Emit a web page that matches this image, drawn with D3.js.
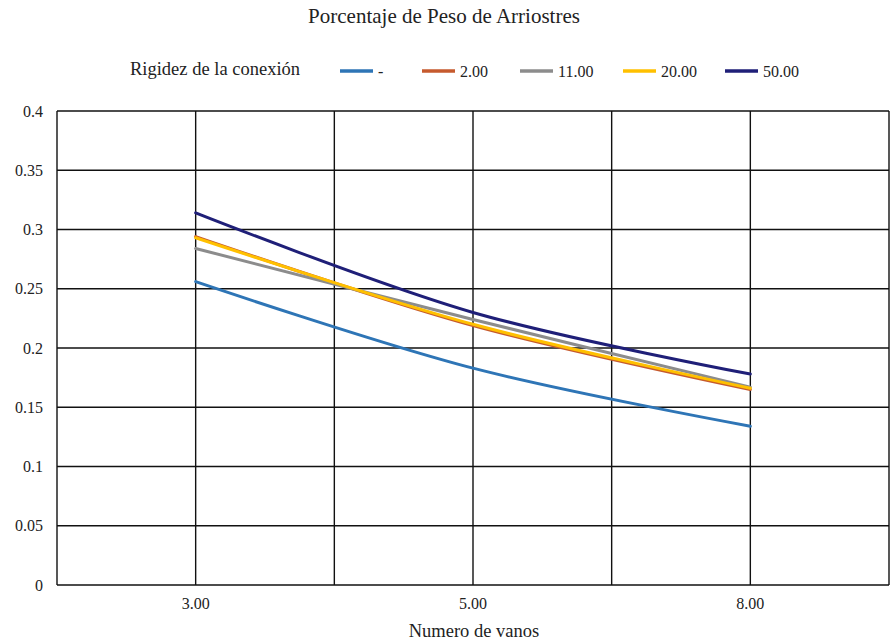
<!DOCTYPE html>
<html><head><meta charset="utf-8">
<script src="https://cdn.jsdelivr.net/npm/d3@7"></script>
<style>body{margin:0;background:#fff}svg{display:block}text{font-family:"Liberation Serif","Times New Roman",serif;fill:#222}</style>
</head><body>
<script>
const categories = ["3.00", "5.00", "8.00"];
const seriesNames = ["-", "2.00", "11.00", "20.00", "50.00"];
const valsNone = [0.256, 0.183, 0.134];
const vals2 = [0.294, 0.219, 0.165];
const vals11 = [0.284, 0.224, 0.167];
const vals20 = [0.293, 0.220, 0.166];
const vals50 = [0.314, 0.230, 0.178];
const yTicks = [0, 0.05, 0.1, 0.15, 0.2, 0.25, 0.3, 0.35, 0.4];
const colors = ["#2E75B6", "#C65A2E", "#8C8C8C", "#FFC000", "#1F1F78"];
const series = [valsNone, vals2, vals11, vals20, vals50].map((v, i) => ({name: seriesNames[i], values: v, color: colors[i]}));

const W = 894, H = 644;
const m = {l: 57, r: 5, t: 111, b: 59};
const svg = d3.select("body").append("svg").attr("width", W).attr("height", H);
const x = d3.scaleBand().domain(categories).range([m.l, W - m.r]).padding(0);
const y = d3.scaleLinear().domain([0, 0.4]).range([H - m.b, m.t]);

// horizontal gridlines
const grid = svg.append("g").attr("stroke", "#111").attr("stroke-width", 1.4);
grid.selectAll("line.h").data(yTicks).join("line")
  .attr("x1", m.l).attr("x2", W - m.r).attr("y1", d => y(d)).attr("y2", d => y(d));
// vertical gridlines at band edges and centers
const vx = [];
categories.forEach(c => { vx.push(x(c)); vx.push(x(c) + x.bandwidth() / 2); });
vx.push(x(categories[categories.length - 1]) + x.bandwidth());
grid.selectAll("line.v").data(vx).join("line")
  .attr("x1", d => d).attr("x2", d => d).attr("y1", m.t).attr("y2", H - m.b);

// y axis labels
const yAxis = d3.axisLeft(y).tickValues(yTicks).tickSize(0).tickPadding(14).tickFormat(d => d3.format("~g")(d));
const ya = svg.append("g").attr("transform", `translate(${m.l},0)`).call(yAxis);
ya.select(".domain").remove();
ya.selectAll("text").style("font-size", "16px").style("font-family", "Liberation Serif, serif").attr("fill", "#222");

// x axis labels
const xAxis = d3.axisBottom(x).tickSize(0).tickPadding(13);
const xa = svg.append("g").attr("transform", `translate(0,${H - m.b})`).call(xAxis);
xa.select(".domain").remove();
xa.selectAll("text").style("font-size", "16px").style("font-family", "Liberation Serif, serif").attr("fill", "#222");

// lines
const line = d3.line().x((d, i) => x(categories[i]) + x.bandwidth() / 2).y(d => y(d)).curve(d3.curveCatmullRom.alpha(0.5));
svg.append("g").selectAll("path").data(series).join("path")
  .attr("d", d => line(d.values)).attr("fill", "none").attr("stroke", d => d.color).attr("stroke-width", 3).attr("stroke-linecap", "round");

// title
svg.append("text").attr("x", 444).attr("y", 23).attr("text-anchor", "middle").style("font-size", "21px").text("Porcentaje de Peso de Arriostres");
// axis title
svg.append("text").attr("x", 474).attr("y", 637).attr("text-anchor", "middle").style("font-size", "18.5px").text("Numero de vanos");

// legend
svg.append("text").attr("x", 130).attr("y", 75).style("font-size", "18.5px").text("Rigidez de la conexión");
const legX = [340, 422, 520, 623, 725];
const leg = svg.append("g").selectAll("g").data(series).join("g").attr("transform", (d, i) => `translate(${legX[i]},71)`);
leg.append("line").attr("x1", 0).attr("x2", 33).attr("y1", 0).attr("y2", 0).attr("stroke", d => d.color).attr("stroke-width", 3.5);
leg.append("text").attr("x", 38).attr("y", 6).style("font-size", "16px").text(d => d.name);
</script>
</body></html>
